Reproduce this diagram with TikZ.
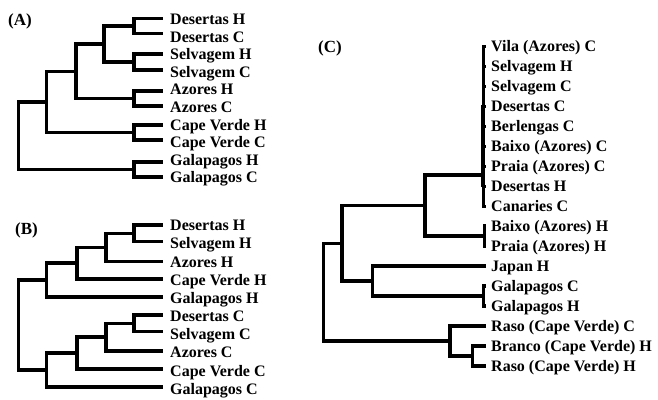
\documentclass[tikz,border=0pt]{standalone}
\usepackage{fontspec}
\setmainfont{Liberation Serif}
\begin{document}
\begin{tikzpicture}[x=1pt,y=-1pt,
  br/.style={line width=3.5pt,line join=miter},
  lab/.style={anchor=base west,inner sep=0pt,font=\bfseries\fontsize{16}{16}\selectfont},
  paneltag/.style={anchor=west,inner sep=0pt,font=\bfseries\fontsize{17}{17}\selectfont}]
\useasboundingbox (0,0) rectangle (658,399);
\newcommand\leafA[5]{\coordinate (#1) at (#2,#3); \node[lab] (#1-t) at (#2+7,#4+5.5) {#5};}
% ---------------- Panel A ----------------
\node[paneltag] (tagA) at (8,21) {(A)};
\leafA{a1}{163}{18.5}{19}{Desertas H}
\leafA{a2}{163}{33.5}{36.6}{Desertas C}
\leafA{a3}{163}{54}{54.2}{Selvagem H}
\leafA{a4}{163}{70}{71.8}{Selvagem C}
\leafA{a5}{163}{91}{89.4}{Azores H}
\leafA{a6}{163}{106}{107}{Azores C}
\leafA{a7}{163}{125}{124.6}{Cape Verde H}
\leafA{a8}{163}{140}{142.2}{Cape Verde C}
\leafA{a9}{163}{162}{159.8}{Galapagos H}
\leafA{a10}{163}{177}{177.4}{Galapagos C}
\coordinate (pDesA) at (134,26);
\coordinate (pSelA) at (134,62);
\coordinate (pAzA) at (134,98.5);
\coordinate (pCVA) at (134,132.5);
\coordinate (pGalA) at (134,169.5);
\coordinate (nDSA) at (104,44);
\coordinate (nDSAA) at (76,71.25);
\coordinate (nN4A) at (46.7,101.9);
\coordinate (rootA) at (18.3,135.7);
\draw[br] (pDesA) |- (a1); \draw[br] (pDesA) |- (a2);
\draw[br] (pSelA) |- (a3); \draw[br] (pSelA) |- (a4);
\draw[br] (pAzA) |- (a5);  \draw[br] (pAzA) |- (a6);
\draw[br] (pCVA) |- (a7);  \draw[br] (pCVA) |- (a8);
\draw[br] (pGalA) |- (a9); \draw[br] (pGalA) |- (a10);
\draw[br] (nDSA) |- (pDesA); \draw[br] (nDSA) |- (pSelA);
\draw[br] (nDSAA) |- (nDSA); \draw[br] (nDSAA) |- (pAzA);
\draw[br] (nN4A) |- (nDSAA); \draw[br] (nN4A) |- (pCVA);
\draw[br] (rootA) |- (nN4A); \draw[br] (rootA) |- (pGalA);
% ---------------- Panel B ----------------
\node[paneltag] (tagB) at (15,230) {(B)};
\leafA{b1}{163}{225}{225}{Desertas H}
\leafA{b2}{163}{241.5}{243}{Selvagem H}
\leafA{b3}{163}{261.5}{261.5}{Azores H}
\leafA{b4}{163}{279}{279.5}{Cape Verde H}
\leafA{b5}{163}{297}{297.5}{Galapagos H}
\leafA{b6}{163}{315}{315.5}{Desertas C}
\leafA{b7}{163}{331.5}{333.5}{Selvagem C}
\leafA{b8}{163}{351}{352}{Azores C}
\leafA{b9}{163}{369}{370.5}{Cape Verde C}
\leafA{b10}{163}{387}{389}{Galapagos C}
\coordinate (bDS) at (134,233.25);
\coordinate (bDSA) at (106,247.4);
\coordinate (bN3) at (77,263.2);
\coordinate (bH) at (46.7,280.1);
\coordinate (cDS) at (134,323.25);
\coordinate (cDSA) at (106,337.1);
\coordinate (cN3) at (77,353.1);
\coordinate (cC) at (46.7,370);
\coordinate (rootB) at (18.3,325.1);
\draw[br] (bDS) |- (b1); \draw[br] (bDS) |- (b2);
\draw[br] (bDSA) |- (bDS); \draw[br] (bDSA) |- (b3);
\draw[br] (bN3) |- (bDSA); \draw[br] (bN3) |- (b4);
\draw[br] (bH) |- (bN3); \draw[br] (bH) |- (b5);
\draw[br] (cDS) |- (b6); \draw[br] (cDS) |- (b7);
\draw[br] (cDSA) |- (cDS); \draw[br] (cDSA) |- (b8);
\draw[br] (cN3) |- (cDSA); \draw[br] (cN3) |- (b9);
\draw[br] (cC) |- (cN3); \draw[br] (cC) |- (b10);
\draw[br] (rootB) |- (bH); \draw[br] (rootB) |- (cC);
% ---------------- Panel C ----------------
\node[paneltag] (tagC) at (318,48) {(C)};
\newcommand\leafC[3]{\coordinate (#1) at (486,#2); \node[lab] (#1-t) at (491,#2+5.5) {#3};}
\leafC{c0}{46}{Vila (Azores) C}
\leafC{c1}{66}{Selvagem H}
\leafC{c2}{86}{Selvagem C}
\leafC{c3}{106}{Desertas C}
\leafC{c4}{126}{Berlengas C}
\leafC{c5}{146}{Baixo (Azores) C}
\leafC{c6}{166}{Praia (Azores) C}
\leafC{c7}{186}{Desertas H}
\leafC{c8}{206}{Canaries C}
\leafC{c9}{226}{Baixo (Azores) H}
\leafC{c10}{246}{Praia (Azores) H}
\leafC{c11}{266}{Japan H}
\leafC{c12}{286}{Galapagos C}
\leafC{c13}{306}{Galapagos H}
\leafC{c14}{326}{Raso (Cape Verde) C}
\leafC{c15}{346}{Branco (Cape Verde) H}
\leafC{c16}{366}{Raso (Cape Verde) H}
\coordinate (poly) at (483.5,175);
\coordinate (sub) at (481.5,146);
\coordinate (pBaixoH) at (484.5,236);
\coordinate (nBig) at (425,205.5);
\coordinate (pGalC) at (483.5,296);
\coordinate (nJG) at (372.7,281);
\coordinate (n342) at (342,243.25);
\coordinate (pBR) at (472.7,356);
\coordinate (nRaso) at (450,341);
\coordinate (rootC) at (323.3,292.1);
\foreach \i in {0,...,8} {\draw[br,line width=3pt] (poly) |- (c\i);}
\foreach \i in {3,...,7} {\draw[br,line width=2pt] (sub) |- (c\i);}
\draw[br] (pBaixoH) |- (c9); \draw[br] (pBaixoH) |- (c10);
\draw[br] (nBig) |- (poly); \draw[br] (nBig) |- (pBaixoH);
\draw[br] (pGalC) |- (c12); \draw[br] (pGalC) |- (c13);
\draw[br] (nJG) |- (c11); \draw[br] (nJG) |- (pGalC);
\draw[br] (n342) |- (nBig); \draw[br] (n342) |- (nJG);
\draw[br] (pBR) |- (c15); \draw[br] (pBR) |- (c16);
\draw[br] (nRaso) |- (c14); \draw[br] (nRaso) |- (pBR);
\draw[br] (rootC) |- (n342); \draw[br] (rootC) |- (nRaso);
\end{tikzpicture}
\end{document}
